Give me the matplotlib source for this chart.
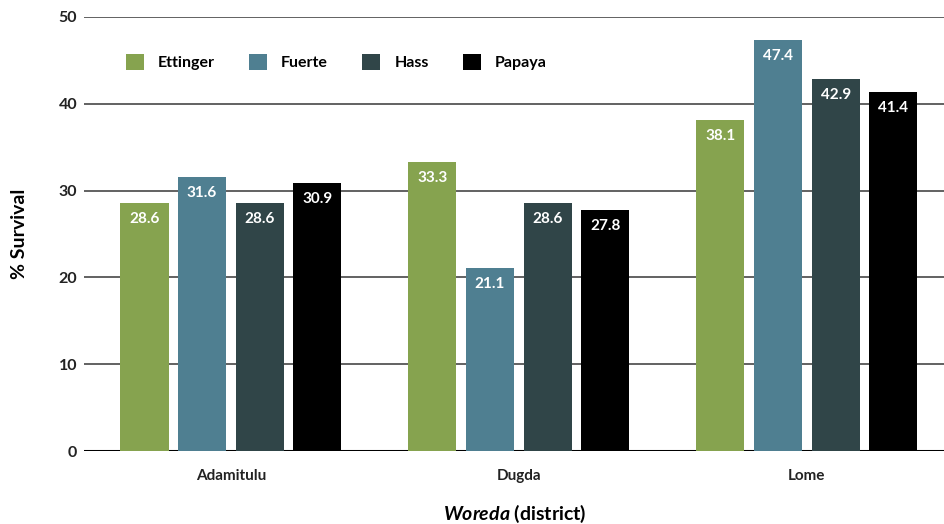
import matplotlib.pyplot as plt
import numpy as np

plt.rcParams['font.family'] = ['Lato', 'DejaVu Sans']
plt.rcParams['font.weight'] = 'bold'
plt.rcParams['mathtext.fontset'] = 'custom'
plt.rcParams['mathtext.it'] = 'Lato:italic:bold'
plt.rcParams['mathtext.rm'] = 'Lato:bold'

woredas = ['Adamitulu', 'Dugda', 'Lome']
varieties = ['Ettinger', 'Fuerte', 'Hass', 'Papaya']
ettinger = [28.6, 33.3, 38.1]
fuerte = [31.6, 21.1, 47.4]
hass = [28.6, 28.6, 42.9]
papaya = [30.9, 27.8, 41.4]
colors = ['#86a34f', '#4f7f91', '#304548', '#000000']

fig = plt.figure(figsize=(9.45, 5.24), dpi=100)
ax = fig.add_axes([0.0889, 0.1393, 0.9111, 0.8283])

x = np.arange(len(woredas))
width = 0.167
step = 0.2
for i, (name, vals) in enumerate(zip(varieties, [ettinger, fuerte, hass, papaya])):
    pos = x + (i - 1.5) * step
    bars = ax.bar(pos, vals, width, color=colors[i], label=name, zorder=3)
    for b, v in zip(bars, vals):
        ax.annotate(f'{v}', (b.get_x() + b.get_width() / 2, v),
                    xytext=(0, -11.5), textcoords='offset points',
                    ha='center', va='center', color='white',
                    fontsize=11, fontweight='bold', zorder=4)

ax.set_ylim(0, 50)
ax.set_xlim(-0.51, 2.48)
ax.set_yticks(range(0, 51, 10))
ax.yaxis.grid(True, color='#555555', linewidth=1.3, zorder=0)
ax.axhline(0, color='black', linewidth=2.2, zorder=2)
for s in ax.spines.values():
    s.set_visible(False)
ax.tick_params(length=0, labelsize=11.5, colors='#222222')
ax.tick_params(axis='y', pad=5)
ax.tick_params(axis='x', labelsize=11, pad=13)
ax.set_xticks(x)
ax.set_xticklabels(woredas)

ax.set_ylabel('% Survival', fontsize=14, fontweight='bold', labelpad=22)
ax.set_xlabel(r'$\mathit{Woreda}$ (district)', fontsize=14, fontweight='bold',
              labelpad=14)

ax.legend(loc='upper left', bbox_to_anchor=(0.032, 0.947), ncol=4, frameon=False,
          fontsize=11.5, handlelength=1.1, handleheight=1.1,
          handletextpad=0.9, columnspacing=2.15)

fig.savefig('out.png', dpi=100)
